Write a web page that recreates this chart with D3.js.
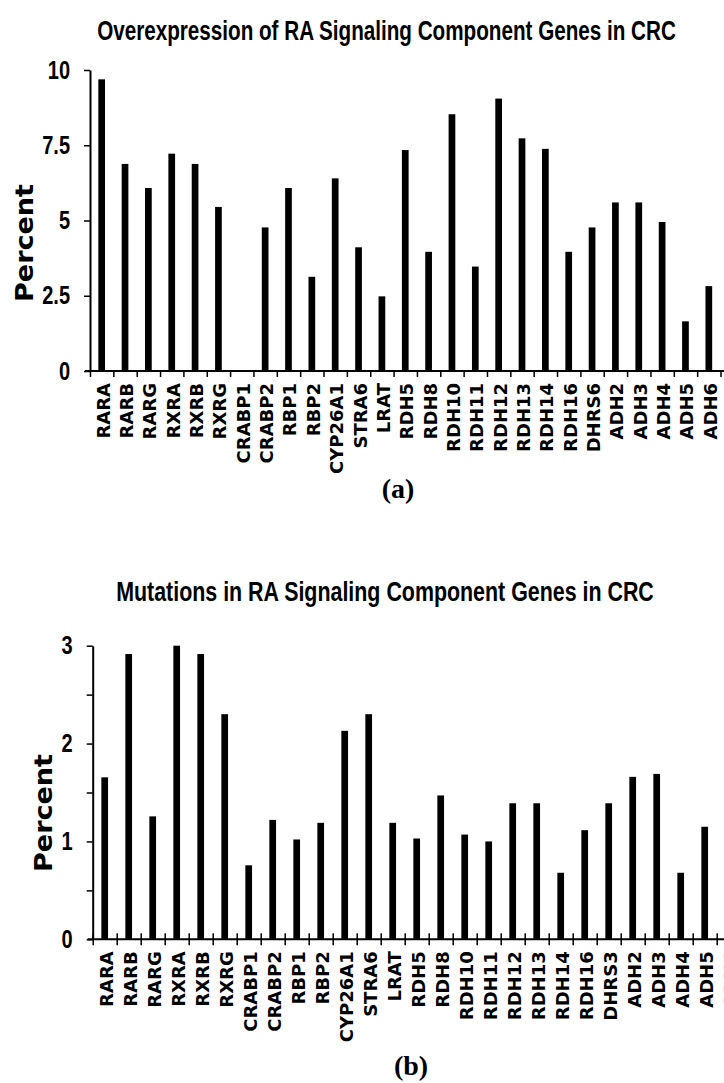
<!DOCTYPE html>
<html>
<head>
<meta charset="utf-8">
<script src="https://cdn.jsdelivr.net/npm/d3@7"></script>
<style>
  body { margin: 0; background: #fff; }
  svg { display: block; }
</style>
</head>
<body>
<svg id="chart" width="724" height="1083"></svg>
<script>
// panel (a) data
const genesA = ['RARA', 'RARB', 'RARG', 'RXRA', 'RXRB', 'RXRG', 'CRABP1', 'CRABP2', 'RBP1', 'RBP2',
  'CYP26A1', 'STRA6', 'LRAT', 'RDH5', 'RDH8', 'RDH10', 'RDH11', 'RDH12', 'RDH13', 'RDH14',
  'RDH16', 'DHRS6', 'ADH2', 'ADH3', 'ADH4', 'ADH5', 'ADH6'];
const valuesA = [9.69, 6.88, 6.08, 7.22, 6.88, 5.45, 0, 4.77, 6.08, 3.13,
  6.40, 4.11, 2.48, 7.34, 3.96, 8.53, 3.47, 9.05, 7.73, 7.38,
  3.96, 4.77, 5.6, 5.6, 4.95, 1.65, 2.82];
const ticksA = [0, 2.5, 5, 7.5, 10];

// panel (b) data (last category is cut off by the page edge)
const genesB = ['RARA', 'RARB', 'RARG', 'RXRA', 'RXRB', 'RXRG', 'CRABP1', 'CRABP2', 'RBP1', 'RBP2',
  'CYP26A1', 'STRA6', 'LRAT', 'RDH5', 'RDH8', 'RDH10', 'RDH11', 'RDH12', 'RDH13', 'RDH14',
  'RDH16', 'DHRS3', 'ADH2', 'ADH3', 'ADH4', 'ADH5', 'ADH6'];
const valuesB = [1.655, 2.915, 1.256, 3.0, 2.915, 2.30, 0.756, 1.22, 1.02, 1.19,
  2.13, 2.30, 1.19, 1.03, 1.47, 1.07, 1.0, 1.39, 1.39, 0.68,
  1.115, 1.39, 1.66, 1.69, 0.68, 1.15, null];
const ticksB = [0, 0.5, 1, 1.5, 2, 2.5, 3];
const labelsB = [0, 1, 2, 3];

const svg = d3.select('#chart');
const narrow = '"Liberation Sans Narrow", "Liberation Sans", Arial, sans-serif';
const squeeze = 0.8; // condensed look for tick numbers

function panel(o) {
  const g = svg.append('g');

  const x = d3.scaleBand().domain(o.genes).range([o.left, o.right]).padding(0);
  const xTick = d3.scaleLinear().domain([0, o.genes.length]).range([o.left, o.right]);
  const y = d3.scaleLinear().domain(o.domain).range([o.bottom, o.top]);
  const barW = 6.7;

  // title, squeezed horizontally to the width seen in the figure
  const title = g.append('text')
    .attr('text-anchor', 'middle')
    .style('font-family', narrow)
    .style('font-weight', 'bold')
    .style('font-size', '28px')
    .text(o.title);
  const tw = title.node().getComputedTextLength();
  title.attr('transform', `translate(${o.titleX},${o.titleY}) scale(${o.titleW / tw},1)`);

  // bars
  g.selectAll('rect.bar')
    .data(o.genes.map((d, i) => ({ gene: d, value: o.values[i] })).filter(d => d.value !== null))
    .enter()
    .append('rect')
    .attr('class', 'bar')
    .attr('x', d => x(d.gene) + (x.bandwidth() - barW) / 2)
    .attr('width', barW)
    .attr('y', d => y(d.value))
    .attr('height', d => y(0) - y(d.value))
    .attr('fill', '#000');

  // y axis
  const yAxis = g.append('g')
    .attr('transform', `translate(${o.left},0)`)
    .call(d3.axisLeft(y)
      .tickValues(o.ticks)
      .tickSize(6)
      .tickSizeOuter(0)
      .tickPadding(14)
      .tickFormat(o.fmt));
  yAxis.select('.domain').attr('stroke-width', 2);
  yAxis.selectAll('.tick line').attr('stroke-width', 1.5);
  yAxis.selectAll('.tick text')
    .attr('x', -20 / squeeze)
    .attr('transform', `scale(${squeeze},1)`)
    .style('font-family', narrow)
    .style('font-weight', 'bold')
    .style('font-size', '25px')
    .attr('fill', '#000');

  // x axis: ticks at category boundaries
  const xAxis = g.append('g')
    .attr('transform', `translate(0,${o.bottom})`)
    .call(d3.axisBottom(xTick)
      .tickValues(d3.range(o.genes.length + 1))
      .tickSize(6)
      .tickFormat(''));
  xAxis.select('.domain').remove();
  xAxis.selectAll('.tick line')
    .attr('y1', o.crossTicks ? -6 : 0)
    .attr('stroke-width', 1.5);
  xAxis.append('line')
    .attr('x1', o.left - 5)
    .attr('x2', 724)
    .attr('stroke', '#000')
    .attr('stroke-width', 2);

  // category labels
  g.selectAll('text.cat')
    .data(o.genes)
    .enter()
    .append('text')
    .attr('class', 'cat')
    .attr('transform', d => `translate(${x(d) + x.bandwidth() / 2 + 1.5},${o.bottom + o.labelGap}) rotate(-90)`)
    .attr('dy', '0.36em')
    .attr('text-anchor', 'end')
    .style('font-family', '"DejaVu Sans", Verdana, sans-serif')
    .style('font-weight', 'bold')
    .style('font-size', '18px')
    .attr('fill', '#000')
    .text(d => d);

  // y title
  g.append('text')
    .attr('transform', `translate(${o.yTitleX},${o.yTitleY}) rotate(-90)`)
    .attr('text-anchor', 'middle')
    .attr('textLength', 118)
    .attr('lengthAdjust', 'spacingAndGlyphs')
    .style('font-family', '"DejaVu Sans", Verdana, sans-serif')
    .style('font-weight', 'bold')
    .style('font-size', '24px')
    .text('Percent');

  // panel letter
  g.append('text')
    .attr('x', o.letterX)
    .attr('y', o.letterY)
    .attr('text-anchor', 'middle')
    .style('font-family', '"Liberation Serif", "Times New Roman", serif')
    .style('font-weight', 'bold')
    .style('font-size', '28px')
    .text(o.letter);
}

panel({
  genes: genesA, values: valuesA, ticks: ticksA, fmt: d => d,
  domain: [0, 10], left: 90, right: 720.5, top: 70, bottom: 371,
  title: 'Overexpression of RA Signaling Component Genes in CRC',
  titleX: 386.5, titleY: 40, titleW: 579,
  yTitleX: 33, yTitleY: 243, labelGap: 12, crossTicks: false,
  letter: '(a)', letterX: 398, letterY: 498
});

panel({
  genes: genesB, values: valuesB, ticks: ticksB,
  fmt: d => (labelsB.includes(d) ? d : ''),
  domain: [0, 3], left: 92.7, right: 740.7, top: 645.7, bottom: 939.3,
  title: 'Mutations in RA Signaling Component Genes in CRC',
  titleX: 385, titleY: 601, titleW: 538,
  yTitleX: 52, yTitleY: 813, labelGap: 12, crossTicks: true,
  letter: '(b)', letterX: 411, letterY: 1075
});
</script>
</body>
</html>
